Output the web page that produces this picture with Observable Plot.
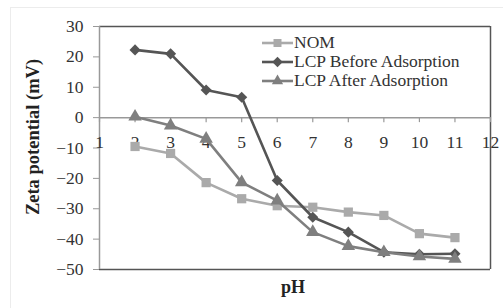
<!DOCTYPE html>
<html><head><meta charset="utf-8">
<script src="https://cdn.jsdelivr.net/npm/d3@7"></script>
<script src="https://cdn.jsdelivr.net/npm/@observablehq/plot@0.6"></script>
<style>
html,body{margin:0;padding:0;background:#fff;}
#wrap{position:relative;width:503px;height:308px;overflow:hidden;font-family:"Liberation Serif","Times New Roman",serif;}
#border{position:absolute;left:10px;top:7px;width:500px;height:310px;border:1px solid #ececec;box-sizing:border-box;}
#legend{position:absolute;left:262px;top:33px;font-size:17.5px;color:#333;line-height:19px;}
#legend .row{display:flex;align-items:center;height:19px;}
#legend svg{margin-right:1px;}
</style>
</head><body>
<div id="wrap"><div id="border"></div><div id="chart"></div><div id="legend"></div></div>
<script>
const pH = [2, 3, 4, 5, 6, 7, 8, 9, 10, 11];
const nom = [-9.5, -11.8, -21.4, -26.7, -29, -29.5, -31.1, -32.2, -38.2, -39.5];
const lcpBefore = [22.3, 21, 9.1, 6.7, -20.7, -32.8, -37.7, -44.3, -45, -44.8];
const lcpAfter = [0.3, -2.6, -7, -21.3, -27.3, -37.7, -42.3, -44.3, -45.7, -46.5];
const seriesNames = ["NOM", "LCP Before Adsorption", "LCP After Adsorption"];
const seriesColors = ["#aaaaaa", "#555555", "#7f7f7f"];
const seriesSymbols = ["square", "diamond2", "triangle"];
const xTicks = [1, 2, 3, 4, 5, 6, 7, 8, 9, 10, 11, 12];
const yTicks = [-50, -40, -30, -20, -10, 0, 10, 20, 30];

const allSeries = [nom, lcpBefore, lcpAfter];
const rows = [];
allSeries.forEach((vals, s) => vals.forEach((v, i) => rows.push({series: seriesNames[s], pH: pH[i], zeta: v})));

const lineMarks = [];
seriesNames.forEach((name, s) => {
  const d = rows.filter(r => r.series === name);
  lineMarks.push(Plot.line(d, {x: "pH", y: "zeta", stroke: seriesColors[s], strokeWidth: 2.6}));
  lineMarks.push(Plot.dot(d, {x: "pH", y: "zeta", fill: seriesColors[s], stroke: "none", symbol: seriesSymbols[s], r: s === 0 ? 5.2 : 5}));
});

const chart = Plot.plot({
  width: 503, height: 308,
  marginLeft: 99, marginRight: 13, marginTop: 26, marginBottom: 39,
  style: {fontFamily: '"Liberation Serif","Times New Roman",serif', fontSize: "17px", color: "#333", background: "transparent"},
  x: {domain: [1, 12], axis: null},
  y: {domain: [-50, 30], axis: null},
  marks: [
    Plot.ruleY([-50, 30], {stroke: "#555", strokeWidth: 1.5}),
    Plot.ruleX([12], {stroke: "#555", strokeWidth: 1.5}),
    Plot.ruleX([1], {stroke: "#999", strokeWidth: 1.5}),
    Plot.ruleY([0], {stroke: "#999", strokeWidth: 1.5}),
    Plot.ruleX(xTicks, {x: d => d, y1: 0, y2: 0, insetBottom: -5, stroke: "#999", strokeWidth: 1.2}),
    Plot.axisY(yTicks, {tickSize: 6, tickPadding: 10, stroke: "#999", fontSize: 17.5, fill: "#333", label: null}),
    Plot.text(xTicks, {x: d => d, y: 0, dy: 25, text: d => String(d), fontSize: 17.5, fill: "#333"}),
    ...lineMarks,
    Plot.text(["pH"], {frameAnchor: "bottom", dy: 23, dx: -2, fontWeight: "bold", fontSize: 18, fill: "#222"}),
    Plot.text(["Zeta potential (mV)"], {frameAnchor: "left", textAnchor: "middle", dx: -66, dy: -11, rotate: -90, fontWeight: "bold", fontSize: 18.5, fill: "#222"})
  ]
});
document.getElementById("chart").appendChild(chart);

const legend = document.getElementById("legend");
const symPaths = {square: d3.symbol(d3.symbolSquare, 64)(), diamond2: d3.symbol(d3.symbolDiamond2, 70)(), triangle: d3.symbol(d3.symbolTriangle, 55)()};
seriesNames.forEach((name, s) => {
  const row = document.createElement("div");
  row.className = "row";
  row.innerHTML = `<svg width="31" height="14"><line x1="0" x2="31" y1="7" y2="7" stroke="${seriesColors[s]}" stroke-width="2.6"/><path transform="translate(15.5,7)" d="${symPaths[seriesSymbols[s]]}" fill="${seriesColors[s]}"/></svg><span>${name}</span>`;
  legend.appendChild(row);
});
</script>
</body></html>
